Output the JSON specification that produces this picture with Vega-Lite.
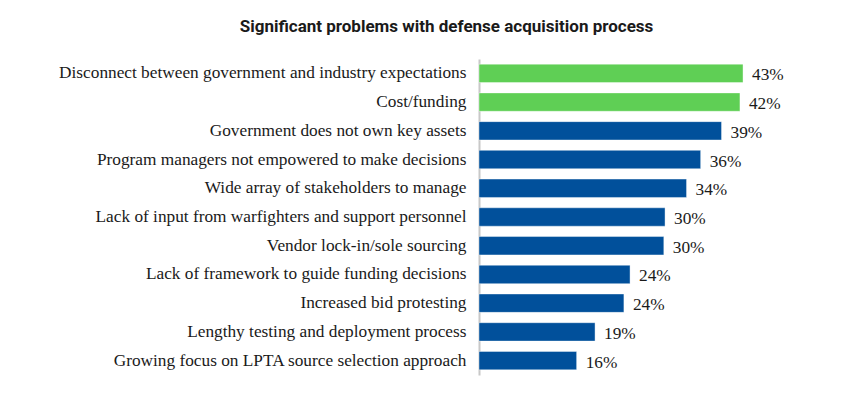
{
  "$schema": "https://vega.github.io/schema/vega-lite/v6.json",
  "autosize": "none",
  "width": 307,
  "height": 316,
  "padding": {"left": 479, "top": 59, "right": 74, "bottom": 19},
  "background": "#ffffff",
  "title": {
    "text": "Significant problems with defense acquisition process",
    "font": "Roboto",
    "fontSize": 17,
    "fontWeight": "bold",
    "color": "#1a1a1a",
    "anchor": "middle",
    "baseline": "alphabetic",
    "offset": 10,
    "dx": -186
  },
  "config": {"view": {"stroke": null}},
  "data": {
    "values": [
      {"problem": "Disconnect between government and industry expectations", "pct": 43.0, "label": "43%"},
      {"problem": "Cost/funding", "pct": 42.5, "label": "42%"},
      {"problem": "Government does not own key assets", "pct": 39.5, "label": "39%"},
      {"problem": "Program managers not empowered to make decisions", "pct": 36.1, "label": "36%"},
      {"problem": "Wide array of stakeholders to manage", "pct": 33.8, "label": "34%"},
      {"problem": "Lack of input from warfighters and support personnel", "pct": 30.3, "label": "30%"},
      {"problem": "Vendor lock-in/sole sourcing", "pct": 30.1, "label": "30%"},
      {"problem": "Lack of framework to guide funding decisions", "pct": 24.6, "label": "24%"},
      {"problem": "Increased bid protesting", "pct": 23.6, "label": "24%"},
      {"problem": "Lengthy testing and deployment process", "pct": 18.9, "label": "19%"},
      {"problem": "Growing focus on LPTA source selection approach", "pct": 15.9, "label": "16%"}
    ]
  },
  "encoding": {
    "y": {
      "field": "problem",
      "type": "nominal",
      "sort": null,
      "scale": {"paddingInner": 0.36, "paddingOuter": 0.18},
      "axis": {
        "title": null,
        "ticks": false,
        "domain": true,
        "domainColor": "#c8c8c8",
        "domainWidth": 2,
        "labelFont": "Liberation Serif",
        "labelFontSize": 17.3,
        "labelColor": "#1a1a1a",
        "labelPadding": 13,
        "labelLimit": 0
      }
    },
    "x": {
      "field": "pct",
      "type": "quantitative",
      "scale": {"domain": [0, 50], "nice": false},
      "axis": null
    }
  },
  "layer": [
    {
      "mark": {"type": "bar", "stroke": "#ffffff", "strokeOpacity": 0.4, "strokeWidth": 1},
      "encoding": {
        "color": {
          "condition": {"test": "datum.pct > 40", "value": "#5fcf55"},
          "value": "#01509b"
        }
      }
    },
    {
      "mark": {
        "type": "text",
        "align": "left",
        "baseline": "middle",
        "dx": 9,
        "dy": 2,
        "font": "Liberation Serif",
        "fontSize": 17.3,
        "color": "#1a1a1a"
      },
      "encoding": {"text": {"field": "label"}}
    }
  ]
}
